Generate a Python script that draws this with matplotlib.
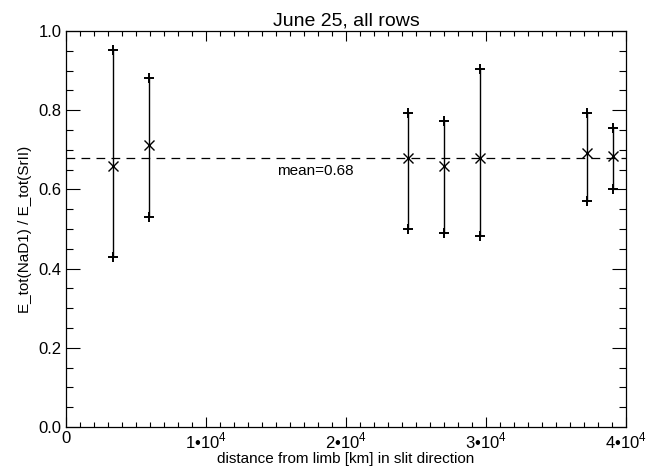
import matplotlib
matplotlib.use('Agg')
import matplotlib.pyplot as plt
from matplotlib.ticker import MultipleLocator, FuncFormatter
import numpy as np

plt.rcParams['font.family'] = ['Liberation Sans', 'DejaVu Sans']
plt.rcParams['mathtext.fontset'] = 'custom'
plt.rcParams['mathtext.rm'] = 'Liberation Sans'

# ── Data ──────────────────────────────────────────────────────────────────────
distance  = [3380, 5930, 24400, 26980, 29550, 37240, 39050]   # km from limb
ratio     = [0.660, 0.711, 0.678, 0.660, 0.678, 0.691, 0.683]
ratio_hi  = [0.952, 0.882, 0.792, 0.773, 0.904, 0.792, 0.754]
ratio_lo  = [0.430, 0.530, 0.500, 0.490, 0.481, 0.571, 0.601]

x  = np.array(distance)
y  = np.array(ratio)
hi = np.array(ratio_hi)
lo = np.array(ratio_lo)
mean = y.mean()

fig = plt.figure(figsize=(6.68, 4.69), dpi=100)
ax = fig.add_axes([0.0988, 0.0896, 0.8383, 0.8444])

ax.vlines(x, lo, hi, color='black', linewidth=1.0)
ax.plot(x, hi, '+', color='black', markersize=6.5, markeredgewidth=1.4)
ax.plot(x, lo, '+', color='black', markersize=6.5, markeredgewidth=1.4)
ax.plot(x, y, 'x', color='black', markersize=7, markeredgewidth=1.0)

ax.axhline(mean, color='black', linewidth=0.9, linestyle=(0, (7, 5)))
ax.text(1.51e4, mean - 0.034, f"mean={mean:.2f}", fontsize=11, va='center', ha='left')

ax.set_xlim(0, 4e4)
ax.set_ylim(0, 1.0)
ax.xaxis.set_major_locator(MultipleLocator(1e4))
ax.xaxis.set_minor_locator(MultipleLocator(1e3))
ax.yaxis.set_major_locator(MultipleLocator(0.2))
ax.yaxis.set_minor_locator(MultipleLocator(0.05))


def sci_fmt(v, pos):
    if v == 0:
        return '0'
    return "%d\u202210$^{4}$" % round(v / 1e4)


ax.xaxis.set_major_formatter(FuncFormatter(sci_fmt))
ax.yaxis.set_major_formatter(FuncFormatter(lambda v, p: f"{v:.1f}"))

ax.tick_params(which='both', direction='in', top=True, right=True,
               labelsize=12, width=0.8)
ax.tick_params(axis='x', which='major', length=7, pad=3)
ax.tick_params(axis='x', which='minor', length=3.5)
ax.tick_params(axis='y', which='major', length=10, pad=3)
ax.tick_params(axis='y', which='minor', length=5)
for s in ax.spines.values():
    s.set_linewidth(0.9)

ax.set_title("June 25, all rows", fontsize=14, pad=4)
ax.set_xlabel("distance from limb [km] in slit direction", fontsize=11, labelpad=0)
ax.set_ylabel("E_tot(NaD1) / E_tot(SrII)", fontsize=11, labelpad=5)

fig.savefig("out.png", dpi=100)
